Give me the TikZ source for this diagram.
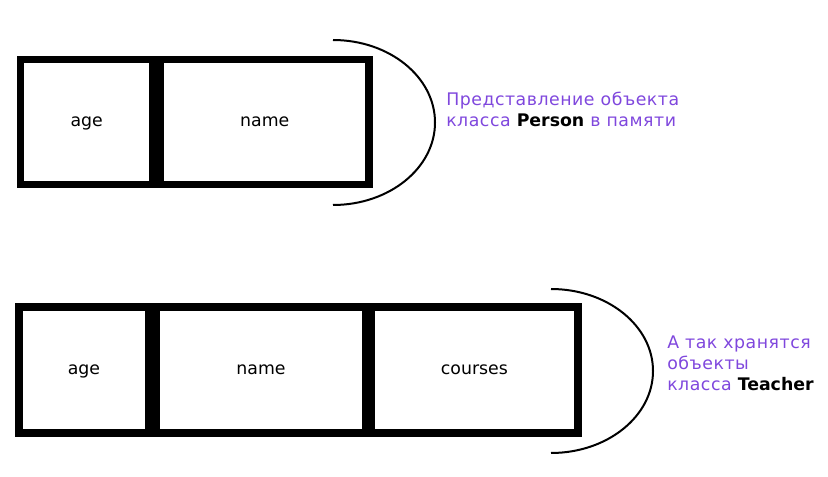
\documentclass[tikz,border=0pt]{standalone}
\usepackage{fontspec}
\setmainfont{DejaVu Sans}
\usetikzlibrary{positioning}
\definecolor{notecolor}{RGB}{127,71,221}
\newcommand{\classname}[1]{\textcolor{black}{\normalfont\bfseries #1}}
\tikzset{/mem/field/.style={rectangle, draw, line width=5.6pt, inner sep=0pt, text height=7.1pt, text depth=0pt, font=\fontsize{13}{15.75}\selectfont
}}
\tikzset{/mem/note/.style={anchor=west, align=left, inner sep=0pt, text=notecolor, font=\fontsize{13}{15.75}\selectfont\addfontfeature{LetterSpace=3}
}}
\tikzset{/mem/brace/.style={line width=1.5pt}}

\begin{document}
\begin{tikzpicture}[x=0.75pt,y=-0.75pt]
	\useasboundingbox (0,0) rectangle (828,477);
	% Person
	\node[/mem/field, minimum width=99.4pt, minimum height=93.75pt] (age1) at (86.75,122) {age};
	\node[/mem/field, minimum width=156.4pt, minimum height=93.75pt, right=0pt of age1] (name1) {name};
	\coordinate (top1) at (333,40);
	\draw[/mem/brace] (top1) arc[start angle=-90, end angle=90, x radius=102, y radius=82.5];
	\node[/mem/note] (note1) at (446,109.5) {Представление объекта\\класса \classname{Person} в памяти};
	% Teacher
	\node[/mem/field, minimum width=97.5pt, minimum height=94.5pt] (age2) at (84,370) {age};
	\node[/mem/field, minimum width=156.75pt, minimum height=94.5pt, right=0pt of age2] (name2) {name};
	\node[/mem/field, minimum width=155.25pt, minimum height=94.5pt, right=-1.5pt of name2] (courses2) {courses};
	\coordinate (top2) at (551,289);
	\draw[/mem/brace] (top2) arc[start angle=-90, end angle=90, x radius=102, y radius=82];
	\node[/mem/note] (note2) at (667,363) {А так хранятся\\объекты\\класса \classname{Teacher}};
\end{tikzpicture}
\end{document}
